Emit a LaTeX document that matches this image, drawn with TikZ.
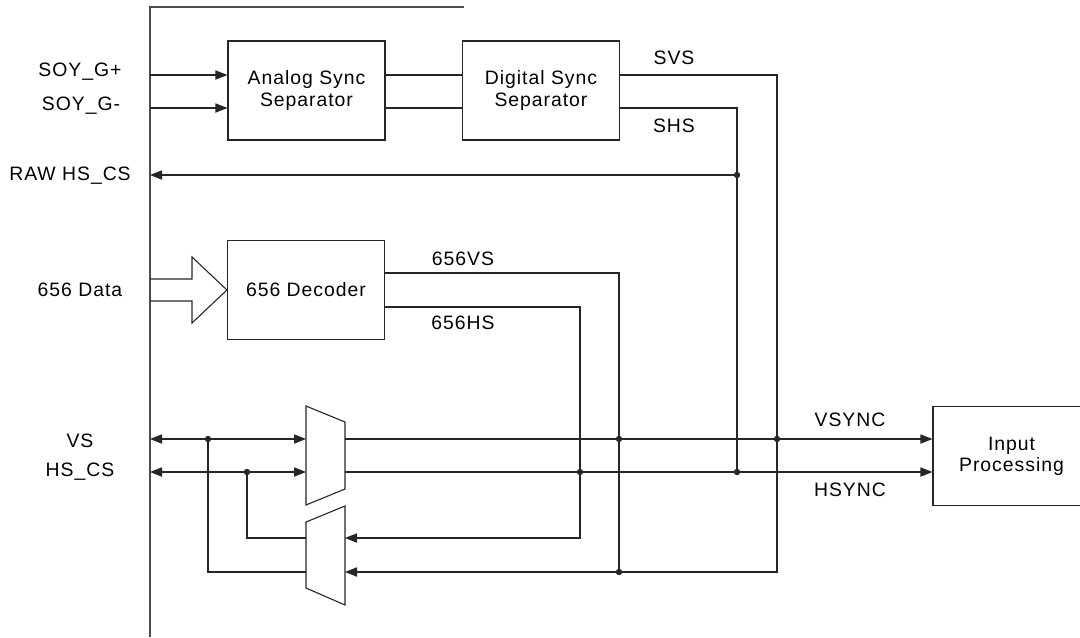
\documentclass[tikz,border=0pt]{standalone}
\usepackage{fontspec}
\setmainfont{Liberation Sans}[LetterSpace=5]
\usetikzlibrary{arrows.meta}

\begin{document}
\begin{tikzpicture}[x=0.5pt, y=-0.5pt, line width=0.55pt, color=black!85,
    font=\fontsize{9.7pt}{10.6pt}\selectfont,
    blk/.style={draw, align=center, text=black, minimum width=78.5pt, minimum height=49.5pt, inner sep=0pt},
    lbl/.style={text=black, inner sep=0pt},
    sig/.style={-{Triangle[length=6pt,width=4.6pt]}},
    bisig/.style={{Triangle[length=6pt,width=4.6pt]}-{Triangle[length=6pt,width=4.6pt]}},
    dot/.style={circle, fill, inner sep=0pt, minimum size=3.2pt}]
    \useasboundingbox (0,0) rectangle (1080,637);

    % frame
    \draw[black!70] (464,7) -- (150,7) -- (150,637);

    % blocks
    \node[blk] (asep) at (306.5,90.5) {Analog Sync\\Separator};
    \node[blk] (dsep) at (541,90.5) {Digital Sync\\Separator};
    \node[blk] (dec) at (306,290) {656 Decoder};
    \node[blk] (inproc) at (1011.5,456) {Input\\Processing};

    % muxes
    \draw (306,406) -- (345,422) -- (345,489) -- (306,505) -- cycle;
    \draw (306,522) -- (345,506) -- (345,605) -- (306,588) -- cycle;
    \coordinate (m1v) at (306,439); \coordinate (m1h) at (306,472);
    \coordinate (m1vo) at (345,439); \coordinate (m1ho) at (345,472);
    \coordinate (m2h) at (345,538); \coordinate (m2v) at (345,572);
    \coordinate (m2ho) at (306,538); \coordinate (m2vo) at (306,572);

    % left side labels and pins
    \node[lbl] (lsoyp) at (80,72) {SOY\_G+};
    \node[lbl] (lsoym) at (81,106) {SOY\_G-};
    \node[lbl] (lraw) at (70,175.5) {RAW HS\_CS};
    \node[lbl] (ldata) at (80,290) {656 Data};
    \node[lbl] (lvs) at (80,441) {VS};
    \node[lbl] (lhs) at (80,472) {HS\_CS};
    \coordinate (soyp) at (150,75); \coordinate (soym) at (150,108);
    \coordinate (raw) at (150,175);
    \coordinate (vs) at (150,439); \coordinate (hs) at (150,472);

    % junctions
    \node[dot] (jraw) at (737,175) {};
    \node[dot] (jshs) at (737,472) {};
    \node[dot] (jsvs) at (777,439) {};
    \coordinate (svsc) at (777,572);
    \node[dot] (jdvs) at (619,439) {};
    \node[dot] (jdvsb) at (619,572) {};
    \node[dot] (jdhs) at (580,472) {};
    \coordinate (dhsc) at (580,538);
    \node[dot] (jvs) at (208,439) {};
    \node[dot] (jhs) at (247,472) {};

    % analog / digital sync
    \draw[sig] (soyp) -- (soyp -| asep.west);
    \draw[sig] (soym) -- (soym -| asep.west);
    \draw (asep.east |- soyp) -- (dsep.west |- soyp);
    \draw (asep.east |- soym) -- (dsep.west |- soym);
    \draw[sig] (dsep.east |- soyp) -| (svsc) -- (m2v);
    \draw (dsep.east |- soym) -| (jshs.center);
    \draw[sig] (jraw.center) -- (raw);
    \node[lbl] (lsvs) at (674,58) {SVS};
    \node[lbl] (lshs) at (674,126) {SHS};

    % 656 path
    \draw (150,279) -- (192,279) -- (192,257) -- (dec.west) -- (192,323) -- (192,301) -- (150,301);
    \draw ([yshift=8.5pt]dec.east) -| (jdvsb.center);
    \draw[sig] ([yshift=-8.5pt]dec.east) -| (dhsc) -- (m2h);
    \node[lbl] (ldvs) at (463,259) {656VS};
    \node[lbl] (ldhs) at (463,323) {656HS};

    % bidirectional pins and mux feedback
    \draw[bisig] (vs) -- (m1v);
    \draw[bisig] (hs) -- (m1h);
    \draw (m2ho) -| (jhs.center);
    \draw (m2vo) -| (jvs.center);

    % outputs
    \draw[sig] (m1vo) -- (m1vo -| inproc.west);
    \draw[sig] (m1ho) -- (m1ho -| inproc.west);
    \node[lbl] (lvsync) at (850,420) {VSYNC};
    \node[lbl] (lhsync) at (850,490) {HSYNC};
\end{tikzpicture}
\end{document}
